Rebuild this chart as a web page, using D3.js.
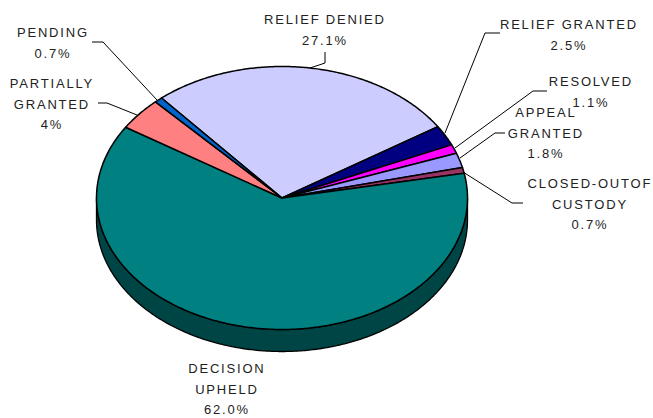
<!DOCTYPE html>
<html><head><meta charset="utf-8">
<script src="https://cdn.jsdelivr.net/npm/d3@7/dist/d3.min.js"></script>
<style>
html,body{margin:0;padding:0;background:#fff;}
text{font-family:"Liberation Sans",Arial,sans-serif;font-size:13px;fill:#222;letter-spacing:1.8px;}
</style></head><body>
<svg id="c" width="653" height="418"></svg>
<script>
// Data
const categories = ["RELIEF DENIED","RELIEF GRANTED","RESOLVED","APPEAL GRANTED","CLOSED-OUTOF CUSTODY","DECISION UPHELD","PARTIALLY GRANTED","PENDING"];
const values = [27.1, 2.5, 1.1, 1.8, 0.7, 62.0, 4, 0.7];
const valueLabels = ["27.1%","2.5%","1.1%","1.8%","0.7%","62.0%","4%","0.7%"];
const colors = ["#CCCCFF","#000080","#FF00FF","#9999FF","#993366","#008080","#FF8080","#0066CC"];
const sideColors = ["#8080a0","#000040","#800080","#5050a0","#4d1933","#004545","#804040","#003366"];

const W = 653, H = 418;
const cx = 282, cy = 198, rx = 185.5, ry = 131.5, depth = 22;
const startDeg = -40.5;

const svg = d3.select("#c");
const pie = d3.pie().sort(null).value(d => d)
  .startAngle(startDeg * Math.PI/180)
  .endAngle((startDeg + 360) * Math.PI/180);
const arcs = pie(values);

const px = a => cx + rx * Math.sin(a);
const py = (a, dz=0) => cy - ry * Math.cos(a) + dz;
const line = d3.line();

function samples(a0, a1) {
  const n = Math.max(2, Math.ceil(Math.abs(a1 - a0) / 0.01));
  return d3.range(n + 1).map(i => a0 + (a1 - a0) * i / n);
}

// side faces (front half: d3 angle between PI/2 and 3PI/2)
const gSide = svg.append("g");
arcs.forEach((d, i) => {
  let a0 = Math.max(d.startAngle, Math.PI/2), a1 = Math.min(d.endAngle, 3*Math.PI/2);
  if (a1 <= a0) return;
  const top = samples(a0, a1).map(a => [px(a), py(a)]);
  const bot = samples(a1, a0).map(a => [px(a), py(a, depth)]);
  gSide.append("path").attr("d", line(top.concat(bot)) + "Z")
    .attr("fill", sideColors[i]).attr("stroke", "#000").attr("stroke-width", 1.3)
    .attr("stroke-linejoin", "round");
});

// top faces
const gTop = svg.append("g");
arcs.forEach((d, i) => {
  const pts = [[cx, cy]].concat(samples(d.startAngle, d.endAngle).map(a => [px(a), py(a)]));
  gTop.append("path").attr("d", line(pts) + "Z")
    .attr("fill", colors[i]).attr("stroke", "#000").attr("stroke-width", 1.5)
    .attr("stroke-linejoin", "round");
});

// labels: [lines], centerX, first baseline
const labelPos = [
  {lines:["RELIEF DENIED"], x:324, y:24},
  {lines:["RELIEF GRANTED"], x:568, y:29},
  {lines:["RESOLVED"], x:590, y:86},
  {lines:["APPEAL","GRANTED"], x:545, y:117},
  {lines:["CLOSED-OUTOF","CUSTODY"], x:589, y:188},
  {lines:["DECISION","UPHELD"], x:226, y:373},
  {lines:["PARTIALLY","GRANTED"], x:51, y:88},
  {lines:["PENDING"], x:52, y:37}
];
const lh = 20.5;
const gLab = svg.append("g");
arcs.forEach((d, i) => {
  const p = labelPos[i];
  const t = gLab.append("text").attr("text-anchor", "middle");
  p.lines.concat([valueLabels[i]]).forEach((s, k) => {
    t.append("tspan").attr("x", p.x + 0.9).attr("y", p.y + k * lh).text(s);
  });
});

// leader lines
const leaders = [
  [[325,52],[325,63],[310,68]],
  [[500,33],[485,33],[445,133]],
  [[547,91],[533,91],[455,148]],
  [[505,133],[495,133],[460,158]],
  [[523,203],[512,203],[463,172]],
  null,
  [[98,103],[107,103],[137,115]],
  [[92,42],[103,42],[157,100]]
];
leaders.forEach(l => {
  if (!l) return;
  svg.append("path").attr("d", line(l)).attr("fill", "none")
    .attr("stroke", "#000").attr("stroke-width", 1);
});
</script>
</body></html>
